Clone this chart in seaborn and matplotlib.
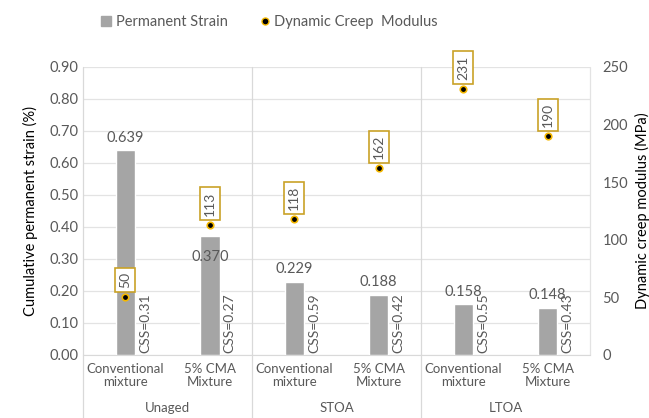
import numpy as np
import pandas as pd
import matplotlib.pyplot as plt
import seaborn as sns
from matplotlib.lines import Line2D
from matplotlib.patches import Patch

# data
groups = ["Unaged", "STOA", "LTOA"]
mixtures = ["Conventional\nmixture", "5% CMA\nMixture"] * 3
strain = [0.639, 0.370, 0.229, 0.188, 0.158, 0.148]
modulus = [50, 113, 118, 162, 231, 190]
css = ["0.31", "0.27", "0.59", "0.42", "0.55", "0.43"]

df = pd.DataFrame({
    "pos": np.arange(len(strain)),
    "strain": strain,
    "modulus": modulus,
})

sns.set_style("white")
plt.rcParams["font.family"] = ["Lato", "DejaVu Sans"]
txt = "#595959"
gold = "#c9a227"

fig = plt.figure(figsize=(6.49, 4.18), dpi=100)
ax = fig.add_axes([0.128, 0.151, 0.781, 0.689])

sns.barplot(data=df, x="pos", y="strain", color="#a5a5a5", saturation=1,
            width=0.23, ax=ax, zorder=3)
ax.set_ylim(0, 0.9)
ax.set_yticks(np.arange(0, 0.91, 0.1))
ax.set_yticklabels([f"{v:.2f}" for v in np.arange(0, 0.91, 0.1)])
ax.grid(axis="y", color="#e3e3e3", lw=0.9, zorder=0)
ax.set_axisbelow(True)
for s in ["top", "right", "left"]:
    ax.spines[s].set_visible(False)
ax.spines["bottom"].set_color("#d9d9d9")
ax.set_xlim(-0.5, 5.5)
ax.set_xticks(df["pos"])
ax.set_xticklabels(mixtures, fontsize=9.5, color=txt, linespacing=1.1)
ax.tick_params(axis="x", length=0, pad=6)
ax.tick_params(axis="y", length=0, labelsize=10.5, colors=txt)
ax.set_xlabel("")
ax.set_ylabel("Cumulative permanent strain (%)", fontsize=10.5, color="black", labelpad=8)

# bar values and CSS labels
for i, v in enumerate(strain):
    dy = -20 if i == 1 else 4
    ax.annotate(f"{v:.3f}", (i, v), xytext=(0, dy), textcoords="offset points",
                ha="center", va="bottom", fontsize=10.5, color=txt, zorder=5)
    ax.text(i + 0.165, 0.005, "CSS=" + css[i], rotation=90, ha="left", va="bottom",
            fontsize=10, color=txt)

# group labels and separators
for g, name in enumerate(groups):
    ax.text(2 * g + 0.5, -0.185, name, transform=ax.get_xaxis_transform(),
            ha="center", va="center", fontsize=9.5, color=txt)
for xb in [-0.5, 1.5, 3.5]:
    ax.plot([xb, xb], [-0.22, 1.0], transform=ax.get_xaxis_transform(),
            color="#d9d9d9", lw=0.9, clip_on=False)
ax.plot([5.5, 5.5], [0, 1.0], transform=ax.get_xaxis_transform(),
        color="#e3e3e3", lw=0.9, clip_on=False)

# secondary axis: dynamic creep modulus
ax2 = ax.twinx()
sns.scatterplot(data=df, x="pos", y="modulus", ax=ax2, color="black",
                edgecolor="#f5b800", linewidth=1.2, s=22, zorder=6, legend=False)
ax2.set_ylim(0, 250)
ax2.set_yticks(np.arange(0, 251, 50))
for s in ["top", "right", "left", "bottom"]:
    ax2.spines[s].set_visible(False)
ax2.tick_params(axis="y", length=0, labelsize=10.5, colors=txt, pad=9)
ax2.set_ylabel("Dynamic creep modulus (MPa)", fontsize=10.5, color="black", labelpad=5)
for i, v in enumerate(modulus):
    ax2.annotate(str(v), (i, v), xytext=(0, 9), textcoords="offset pixels",
                 ha="center", va="bottom", rotation=90, fontsize=10, color=txt,
                 bbox=dict(boxstyle="square,pad=0.3", fc="white", ec=gold, lw=1.2),
                 annotation_clip=False, zorder=7)

handles = [Patch(color="#a5a5a5", label="Permanent Strain"),
           Line2D([], [], marker="o", ls="", color="black", markeredgecolor="#f5b800",
                  markersize=5, label="Dynamic Creep  Modulus")]
fig.legend(handles=handles, loc="upper center", bbox_to_anchor=(0.415, 0.995), ncol=2,
           frameon=False, fontsize=10.5, handlelength=0.7, handletextpad=0.3,
           columnspacing=2.2, labelcolor=txt)

fig.savefig("out.png", dpi=100)
